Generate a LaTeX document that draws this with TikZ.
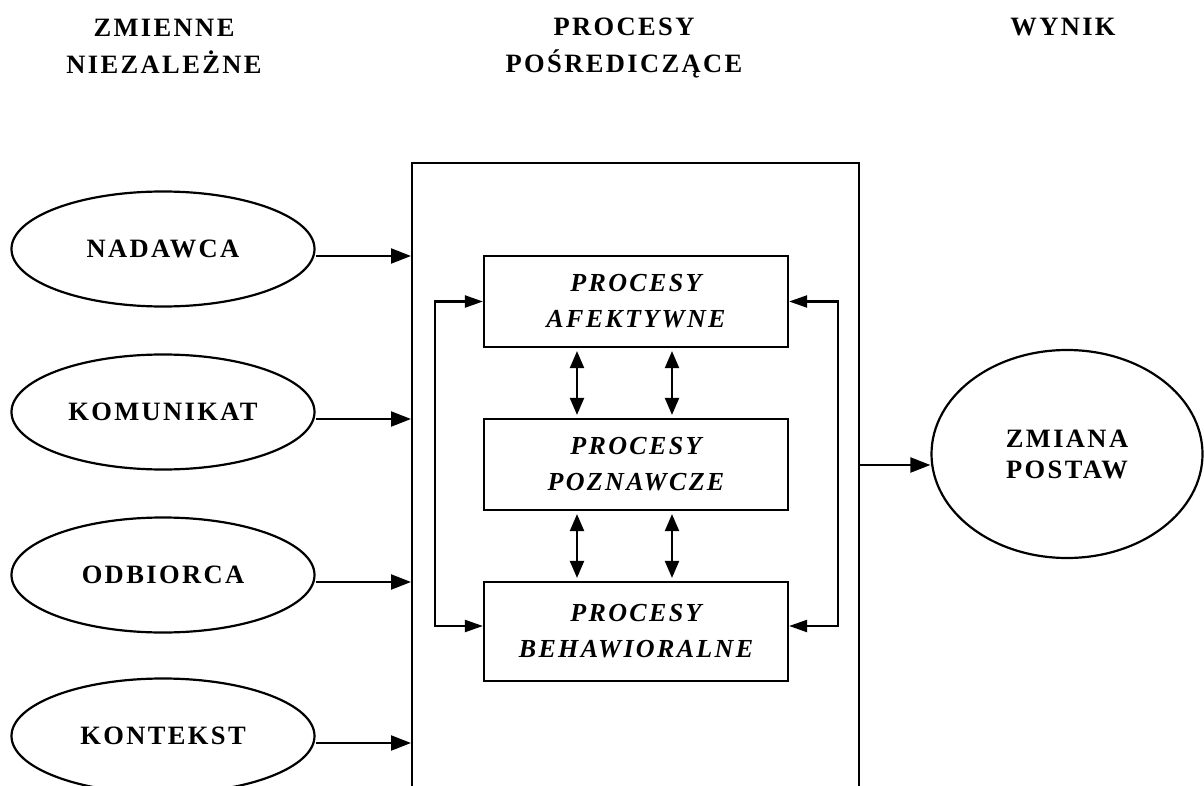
\documentclass[tikz,border=0pt]{standalone}
\usepackage{fontspec}
\setmainfont{Liberation Serif}
\newfontfamily\spfont[LetterSpace=9]{Liberation Serif}
\usetikzlibrary{arrows.meta,shapes.geometric}
\tikzset{
  lw/.style={line width=2.2pt},
  hdr/.style={font=\spfont\bfseries\fontsize{26.5}{37}\selectfont, align=center, inner sep=0pt, anchor=north},
  ell/.style={ellipse, draw, lw, minimum width=303pt, minimum height=115pt, inner sep=0pt, align=center,
              font=\spfont\bfseries\fontsize{26.5}{31}\selectfont},
  procbox/.style={rectangle, draw, lw, minimum width=304pt, inner sep=0pt, align=center,
              font=\spfont\bfseries\itshape\fontsize{26}{36}\selectfont},
  arr/.style={lw, -{Triangle[length=20pt,width=15pt]}},
  dbl/.style={lw, {Triangle[length=17pt,width=14pt]}-{Triangle[length=17pt,width=14pt]}, shorten <=3pt, shorten >=3pt},
  loop/.style={lw, {Triangle[length=18pt,width=12pt]}-{Triangle[length=18pt,width=12pt]}}
}
\begin{document}
\begin{tikzpicture}[x=1pt,y=-1pt]
\useasboundingbox (0,0) rectangle (1204,786);
\clip (0,0) rectangle (1204,786);
% headers
\node[hdr] (h1) at (164,19) {ZMIENNE\\NIEZALEŻNE};
\node[hdr] (h2) at (624,18) {PROCESY\\POŚREDICZĄCE};
\node[hdr] (h3) at (1063,18) {WYNIK};
% big frame
\node[draw, lw, minimum width=447pt, minimum height=720pt, anchor=north west, inner sep=0pt] (big) at (411,162) {};
% left ellipses
\node[ell] (nad) at (163,249) {NADAWCA};
\node[ell] (kom) at (163,412) {KOMUNIKAT};
\node[ell] (odb) at (163,575) {ODBIORCA};
\node[ell] (kon) at (163,736) {KONTEKST};
\foreach \n in {nad,kom,odb,kon}{
  \draw[arr] ([yshift=-7pt]\n.east) -- ([yshift=-7pt]\n.east -| big.west);
}
% inner boxes
\node[procbox, minimum height=91pt] (aff) at (636,301.5) {PROCESY\\AFEKTYWNE};
\node[procbox, minimum height=91pt] (poz) at (636,464.5) {PROCESY\\POZNAWCZE};
\node[procbox, minimum height=99pt] (beh) at (636,631.5) {PROCESY\\BEHAWIORALNE};
% double arrows
\draw[dbl] ([xshift=-59pt]aff.south) -- ([xshift=-59pt]poz.north);
\draw[dbl] ([xshift=36pt]aff.south) -- ([xshift=36pt]poz.north);
\draw[dbl] ([xshift=-59pt]poz.south) -- ([xshift=-59pt]beh.north);
\draw[dbl] ([xshift=36pt]poz.south) -- ([xshift=36pt]beh.north);
% loops
\coordinate (lx) at (435,0);
\coordinate (rx) at (838,0);
\draw[loop] (aff.west) -- (aff.west -| lx) -- ([yshift=5.5pt]beh.west -| lx) -- ([yshift=5.5pt]beh.west);
\draw[loop] (aff.east) -- (aff.east -| rx) -- ([yshift=5.5pt]beh.east -| rx) -- ([yshift=5.5pt]beh.east);
% result
\node[ell, minimum width=271pt, minimum height=208pt] (zm) at (1067,454) {ZMIANA\\POSTAW};
\draw[arr] ([yshift=-11pt]zm.west -| big.east) -- ([yshift=-11pt]zm.west);
\end{tikzpicture}
\end{document}
